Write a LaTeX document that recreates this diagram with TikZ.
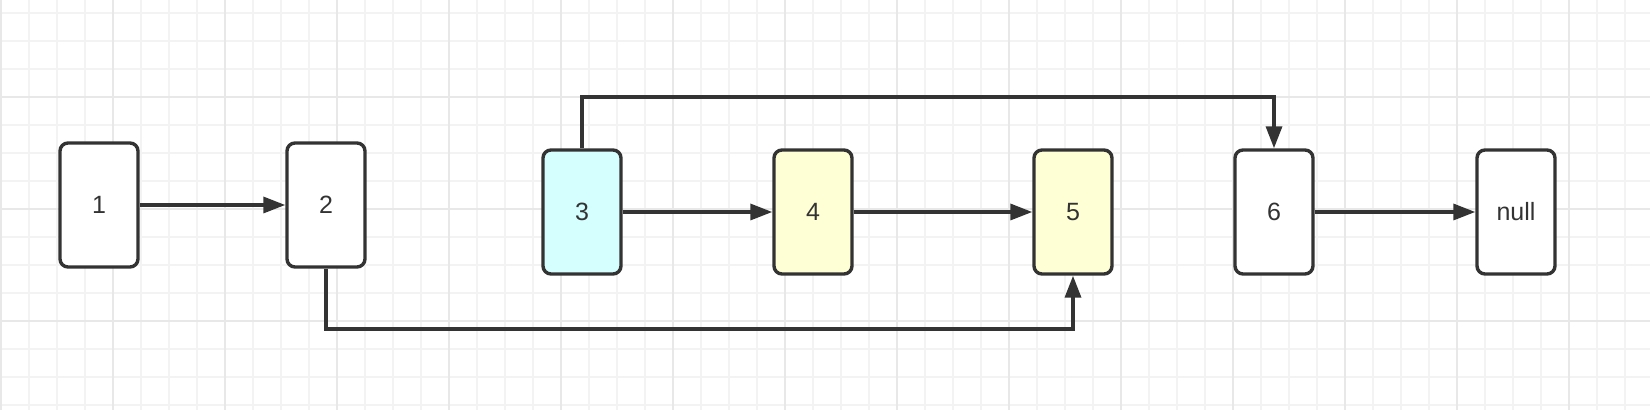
\documentclass[tikz,border=0pt]{standalone}
\usepackage{fontspec}
\setsansfont{Liberation Sans}
\usetikzlibrary{arrows.meta,positioning}
\definecolor{linegray}{HTML}{333333}
\definecolor{cellcyan}{HTML}{D5FFFF}
\definecolor{cellyellow}{HTML}{FFFFD5}
\definecolor{gridminor}{HTML}{F3F3F3}
\definecolor{gridmajor}{HTML}{E8E8E8}
\tikzstyle{cell}=[rectangle, rounded corners=4pt, draw=linegray, line width=1.7pt, fill=white, minimum width=39pt, minimum height=62pt, inner sep=0pt, text=linegray, font=\sffamily\fontsize{12.5}{14}\selectfont]
\tikzstyle{link}=[draw=linegray, line width=1.7pt, -{Triangle[length=11pt,width=8pt]}]

\begin{document}
\begin{tikzpicture}[x=0.5pt, y=-0.5pt]
  \useasboundingbox (0,0) rectangle (1650,410);
  % background grid
  \foreach \gx in {1,29,...,1650} \draw[gridminor, line width=0.75pt] (\gx,0) -- (\gx,410);
  \foreach \gy in {13,41,...,410} \draw[gridminor, line width=0.75pt] (0,\gy) -- (1650,\gy);
  \foreach \gx in {1,113,...,1650} \draw[gridmajor, line width=0.75pt] (\gx,0) -- (\gx,410);
  \foreach \gy in {97,209,321} \draw[gridmajor, line width=0.75pt] (0,\gy) -- (1650,\gy);

  \node[cell] (n1) at (99,205) {1};
  \node[cell] (n2) at (326,205) {2};
  \node[cell, fill=cellcyan] (n3) at (582,212) {3};
  \node[cell, fill=cellyellow] (n4) at (813,212) {4};
  \node[cell, fill=cellyellow] (n5) at (1073,212) {5};
  \node[cell] (n6) at (1274,212) {6};
  \node[cell] (nnull) at (1516,212) {null};

  \coordinate (topbend) at (900,97);
  \coordinate (lowbend) at (700,329);

  \draw[link] (n1) -- (n2);
  \draw[link] (n3) -- (n4);
  \draw[link] (n4) -- (n5);
  \draw[link] (n6) -- (nnull);
  \draw[link] (n3.north) |- (topbend) -| (n6.north);
  \draw[link] (n2.south) |- (lowbend) -| (n5.south);
\end{tikzpicture}
\end{document}
